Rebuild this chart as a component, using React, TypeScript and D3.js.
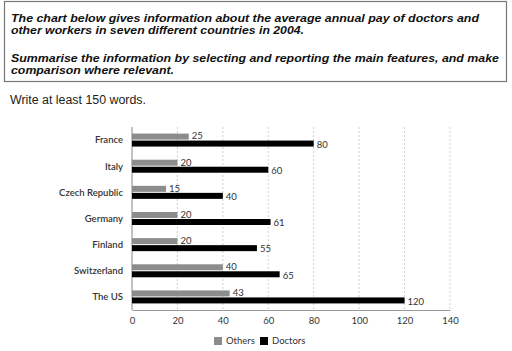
import { useEffect, useRef } from 'react'
import * as d3 from 'd3'

const countries = ['France', 'Italy', 'Czech Republic', 'Germany', 'Finland', 'Switzerland', 'The US']
const others = [25, 20, 15, 20, 20, 40, 43]
const doctors = [80, 60, 40, 61, 55, 65, 120]
const xTicks = [0, 20, 40, 60, 80, 100, 120, 140]
const seriesNames = ['Others', 'Doctors']
const seriesColors = ['#8c8c8c', '#000000']

const W = 512
const H = 351
const FONT = 'Lato, "Open Sans", sans-serif'

export default function App() {
  const svgRef = useRef<SVGSVGElement>(null)

  useEffect(() => {
    if (!svgRef.current) return
    const svg = d3.select(svgRef.current)
    svg.selectAll('*').remove()

    svg.append('rect').attr('width', W).attr('height', H).attr('fill', '#fff')

    // task prompt box
    svg.append('rect')
      .attr('x', 4.5).attr('y', 1.5).attr('width', 502).attr('height', 80)
      .attr('fill', 'none').attr('stroke', '#777').attr('stroke-width', 1.2)

    const prompt = [
      { t: 'The chart below gives information about the average annual pay of doctors and', y: 22, w: 468 },
      { t: 'other workers in seven different countries in 2004.', y: 34, w: 293 },
      { t: 'Summarise the information by selecting and reporting the main features, and make', y: 62, w: 488 },
      { t: 'comparison where relevant.', y: 74, w: 163 },
    ]
    svg.append('g').selectAll('text').data(prompt).join('text')
      .attr('x', 11).attr('y', d => d.y)
      .attr('textLength', d => d.w).attr('lengthAdjust', 'spacingAndGlyphs')
      .attr('font-family', '"Liberation Sans", Arial, sans-serif')
      .attr('font-size', 11).attr('font-weight', 700).attr('font-style', 'italic')
      .attr('fill', '#111')
      .text(d => d.t)

    svg.append('text')
      .attr('x', 10).attr('y', 104)
      .attr('textLength', 136).attr('lengthAdjust', 'spacingAndGlyphs')
      .attr('font-family', '"Liberation Sans", Arial, sans-serif')
      .attr('font-size', 12).attr('fill', '#222')
      .text('Write at least 150 words.')

    // chart
    const x = d3.scaleLinear().domain([0, 140]).range([132, 450])
    const y = d3.scaleBand<string>().domain(countries).range([127, 310])
    const barH = 6
    const gap = 1
    const mid = (c: string) => (y(c) ?? 0) + y.bandwidth() / 2

    svg.append('g').selectAll('line').data(xTicks.slice(1)).join('line')
      .attr('x1', d => x(d)).attr('x2', d => x(d))
      .attr('y1', 127).attr('y2', 310)
      .attr('stroke', '#cfcfcf').attr('stroke-dasharray', '2,2').attr('stroke-width', 1)

    const axis = svg.append('g').attr('transform', 'translate(0,310)')
      .call(d3.axisBottom(x).tickValues(xTicks).tickSize(0).tickPadding(7))
    axis.select('.domain').attr('stroke', '#999').attr('stroke-width', 1.2)
    axis.selectAll('text').attr('font-family', FONT).attr('font-size', 9.5).attr('fill', '#333')

    svg.append('line')
      .attr('x1', x(0)).attr('x2', x(0)).attr('y1', 127).attr('y2', 310)
      .attr('stroke', '#999').attr('stroke-width', 1.2)

    const rows = countries.map((c, i) => ({ c, o: others[i], d: doctors[i] }))
    const row = svg.append('g').selectAll('g').data(rows).join('g')

    row.append('text')
      .attr('x', 123).attr('y', d => mid(d.c))
      .attr('dy', '0.35em').attr('text-anchor', 'end')
      .attr('font-family', FONT).attr('font-size', 9.5).attr('font-weight', 600).attr('fill', '#333')
      .text(d => d.c)

    row.append('rect')
      .attr('x', x(0)).attr('y', d => mid(d.c) - gap / 2 - barH)
      .attr('width', d => x(d.o) - x(0)).attr('height', barH)
      .attr('fill', seriesColors[0])
    row.append('rect')
      .attr('x', x(0)).attr('y', d => mid(d.c) + gap / 2)
      .attr('width', d => x(d.d) - x(0)).attr('height', barH)
      .attr('fill', seriesColors[1])

    row.append('text')
      .attr('x', d => x(d.o) + 3).attr('y', d => mid(d.c) - gap / 2 - barH / 2)
      .attr('dy', '0.3em')
      .attr('font-family', FONT).attr('font-size', 9.5).attr('fill', '#333')
      .text(d => d.o)
    row.append('text')
      .attr('x', d => x(d.d) + 3).attr('y', d => mid(d.c) + gap / 2 + barH / 2 + 1)
      .attr('dy', '0.35em')
      .attr('font-family', FONT).attr('font-size', 9.5).attr('fill', '#333')
      .text(d => d.d)

    // legend
    const legendX = [214, 260]
    const leg = svg.append('g').selectAll('g').data(seriesNames).join('g')
      .attr('transform', (_d, i) => `translate(${legendX[i]},337)`)
    leg.append('rect').attr('width', 8).attr('height', 8).attr('fill', (_d, i) => seriesColors[i])
    leg.append('text').attr('x', 12).attr('y', 4).attr('dy', '0.35em')
      .attr('font-family', FONT).attr('font-size', 9.5).attr('fill', '#333')
      .text(d => d)
  }, [])

  return (
    <div style={{ position: 'fixed', left: 0, top: 0 }}>
      <svg ref={svgRef} width={W} height={H} style={{ display: 'block' }} />
    </div>
  )
}
